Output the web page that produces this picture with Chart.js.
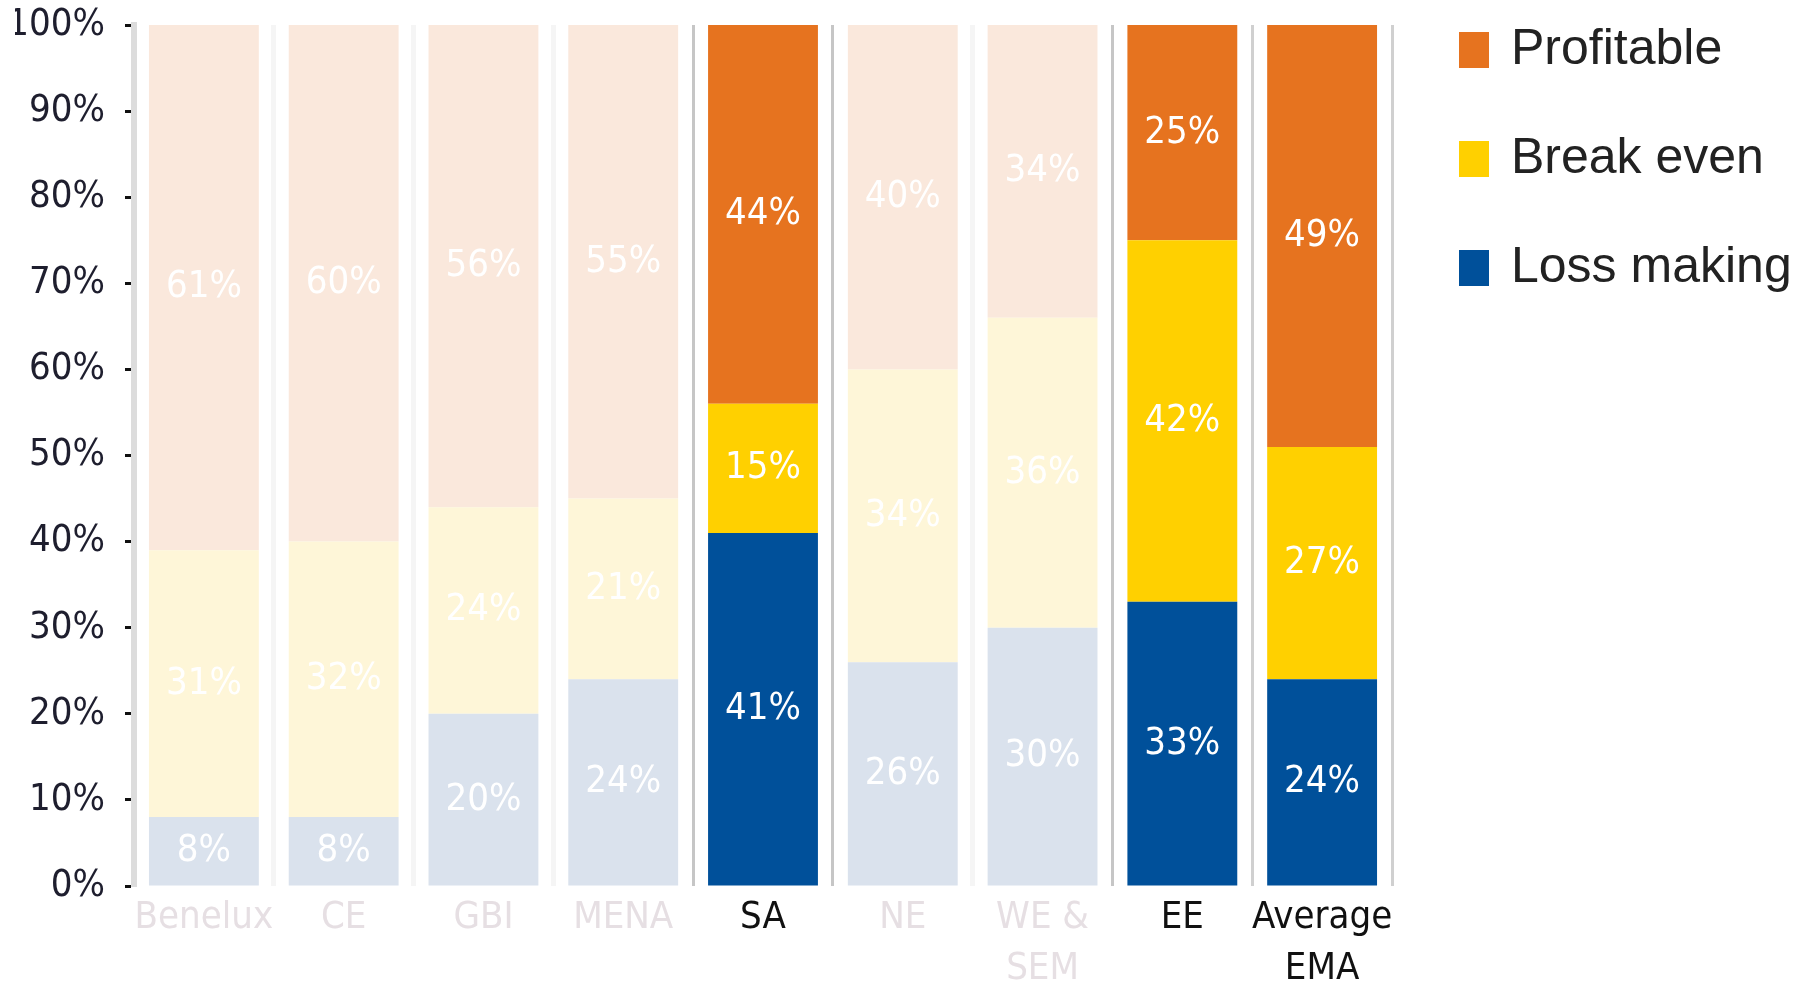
<!DOCTYPE html>
<html>
<head>
<meta charset="utf-8">
<title>Profitability by region</title>
<script src="https://cdn.jsdelivr.net/npm/chart.js@4.4.1/dist/chart.umd.min.js"></script>
<style>
  html, body { margin: 0; padding: 0; background: #fff; }
</style>
</head>
<body>
<canvas id="profitChart" width="1799" height="987"></canvas>
<script>
// data, bottom segment first
const regions = [['Benelux'], ['CE'], ['GBI'], ['MENA'], ['SA'], ['NE'], ['WE &', 'SEM'], ['EE'], ['Average', 'EMA']];
const lossMaking = [8, 8, 20, 24, 41, 26, 30, 33, 24];
const breakEven = [31, 32, 24, 21, 15, 34, 36, 42, 27];
const profitable = [61, 60, 56, 55, 44, 40, 34, 25, 49];
const highlighted = ['SA', 'EE', 'Average EMA'];

const narrowFont = '"DejaVu Sans Condensed", "Liberation Sans Narrow", sans-serif';

function isHighlighted(i) {
    return highlighted.includes(regions[i].join(' '));
}

// strong colour for highlighted bars, washed out for the rest
function barColor(strong, faded) {
    return function (ctx) {
        return isHighlighted(ctx.dataIndex) ? strong : faded;
    };
}

// thin vertical separators between the categories
function separatorColor(ctx) {
    const i = ctx.index;
    if (i === 0) return 'rgba(0,0,0,0)';
    if (i === undefined || i === 8) return '#d0d0d0';
    if (i === 4 || i === 5 || i === 7) return '#c6c6c6';
    return '#f5f5f5';
}
function separatorWidth(ctx) {
    const i = ctx.index;
    if (i === 1 || i === 2 || i === 3 || i === 6) return 5;
    return 3;
}

const barValueLabels = {
    id: 'barValueLabels',
    afterDatasetsDraw(chart) {
        const ctx = chart.ctx;
        ctx.save();
        ctx.font = '38px ' + narrowFont;
        ctx.fillStyle = '#ffffff';
        ctx.textAlign = 'center';
        ctx.textBaseline = 'middle';
        chart.data.datasets.forEach((ds, di) => {
            chart.getDatasetMeta(di).data.forEach((bar, i) => {
                ctx.fillText(ds.data[i] + '%', bar.x, (bar.y + bar.base) / 2);
            });
        });
        ctx.restore();
    }
};

const sideLegend = {
    id: 'sideLegend',
    afterDraw(chart) {
        const ctx = chart.ctx;
        const x = chart.chartArea.right + 67;
        ctx.save();
        ctx.font = '50px "Liberation Sans", Arial, sans-serif';
        ctx.textBaseline = 'middle';
        chart.data.datasets.slice().reverse().forEach((ds, k) => {
            const cy = 50 + k * 109;
            ctx.fillStyle = ds.legendColor;
            ctx.fillRect(x, cy - 18, 30, 36);
            ctx.fillStyle = '#222';
            ctx.fillText(ds.label, x + 52, cy);
        });
        ctx.restore();
    }
};

const ctx = document.getElementById('profitChart').getContext('2d');
new Chart(ctx, {
    type: 'bar',
    data: {
        labels: regions,
        datasets: [
            {
                label: 'Loss making',
                data: lossMaking,
                legendColor: '#00509a',
                backgroundColor: barColor('#00509a', '#dae2ed')
            },
            {
                label: 'Break even',
                data: breakEven,
                legendColor: '#ffd000',
                backgroundColor: barColor('#ffd000', '#fef6d8')
            },
            {
                label: 'Profitable',
                data: profitable,
                legendColor: '#e6731f',
                backgroundColor: barColor('#e6731f', '#fae8dc')
            }
        ]
    },
    options: {
        responsive: false,
        animation: false,
        barPercentage: 0.786,
        categoryPercentage: 1,
        layout: { padding: { left: 15, top: 25, right: 407, bottom: 0 } },
        plugins: {
            legend: { display: false },
            tooltip: { enabled: false }
        },
        scales: {
            x: {
                stacked: true,
                border: { display: false },
                grid: {
                    offset: true,
                    drawTicks: false,
                    color: separatorColor,
                    lineWidth: separatorWidth
                },
                ticks: {
                    padding: 7,
                    autoSkip: false,
                    maxRotation: 0,
                    color: c => isHighlighted(c.index) ? '#111' : '#e6dfe3',
                    font: { family: narrowFont, size: 38, lineHeight: 1.34 }
                },
                afterFit: s => { s.height = 101; }
            },
            y: {
                stacked: true,
                min: 0,
                max: 100,
                border: { color: '#dcdcdc', width: 6 },
                grid: { drawOnChartArea: false, tickLength: 9, tickColor: '#111', tickWidth: 3 },
                ticks: {
                    stepSize: 10,
                    padding: 20,
                    color: '#1e1e2e',
                    callback: v => v + '%',
                    font: { family: narrowFont, size: 38 }
                },
                afterFit: s => {
                    s.width = 119;
                    s.paddingTop = 0;
                    s.paddingBottom = 0;
                }
            }
        }
    },
    plugins: [barValueLabels, sideLegend]
});
</script>
</body>
</html>
